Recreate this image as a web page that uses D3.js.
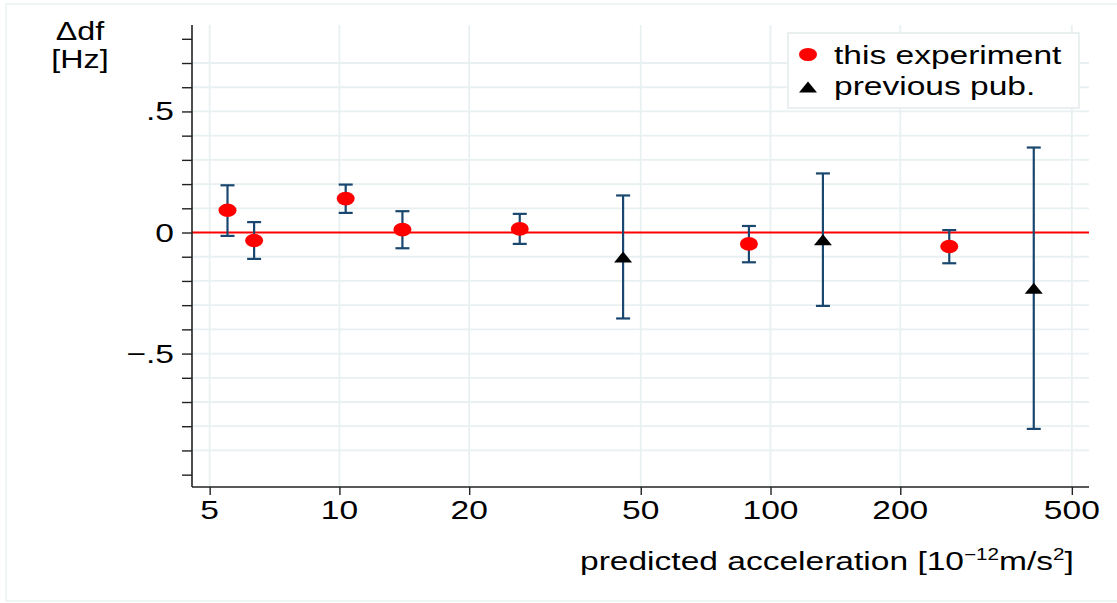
<!DOCTYPE html>
<html>
<head>
<meta charset="utf-8">
<script src="https://cdn.jsdelivr.net/npm/d3@7"></script>
<style>
  html, body { margin: 0; padding: 0; background: #ffffff; }
  svg { display: block; font-family: "Liberation Sans", Arial, Helvetica, sans-serif; }
</style>
</head>
<body>
<svg id="chart" width="1117" height="603"></svg>
<script>
// ---- data ----
const expX  = [5.5, 6.34, 10.34, 14.0, 26.2, 89.1, 259.8];
const expY  = [0.092, -0.033, 0.140, 0.012, 0.015, -0.047, -0.058];
const expLo = [-0.014, -0.109, 0.081, -0.065, -0.047, -0.123, -0.127];
const expHi = [0.195, 0.043, 0.198, 0.088, 0.077, 0.027, 0.010];

const pubX  = [45.5, 132.3, 408];
const pubY  = [-0.101, -0.030, -0.230];
const pubLo = [-0.355, -0.303, -0.811];
const pubHi = [0.153, 0.244, 0.351];

const xTicks = [5, 10, 20, 50, 100, 200, 500];
const yTicks = [-1.0, -0.9, -0.8, -0.7, -0.6, -0.5, -0.4, -0.3, -0.2, -0.1, 0, 0.1, 0.2, 0.3, 0.4, 0.5, 0.6, 0.7, 0.8];
const yGrid  = [-0.9, -0.8, -0.7, -0.6, -0.5, -0.4, -0.3, -0.2, -0.1, 0.1, 0.2, 0.3, 0.4, 0.5, 0.6, 0.7];
const yLabels = [{v: 0.5, t: ".5"}, {v: 0, t: "0"}, {v: -0.5, t: "\u2212.5"}];
const legendItems = ["this experiment", "previous pub."];

// ---- layout ----
const L = 192, R = 1089, T = 25, B = 487;
const SX = 1.29;            // horizontal stretch of the original rendering
const FS = 26;

const svg = d3.select("#chart");
const x = d3.scaleLog().domain([4.55, 548]).range([L, R]);
const y = d3.scaleLinear().domain([-1.051, 0.857]).range([B, T]);

const gridCol = "#e8f0f2";
const errCol = "#1a476f";

// outer frame
svg.append("rect").attr("x", 6).attr("y", 4).attr("width", 1125).attr("height", 597)
  .attr("fill", "#ffffff").attr("stroke", "#e6eeee").attr("stroke-width", 1.2);

function txt(g, px, py, s, anchor, size) {
  return g.append("text")
    .attr("transform", `translate(${px},${py}) scale(${SX},1)`)
    .attr("text-anchor", anchor || "start")
    .attr("font-size", size || FS)
    .attr("fill", "#000")
    .text(s);
}

// gridlines
const grid = svg.append("g");
grid.selectAll("line.h").data(yGrid).join("line")
  .attr("x1", L).attr("x2", R)
  .attr("y1", d => y(d)).attr("y2", d => y(d))
  .attr("stroke", gridCol).attr("stroke-width", 1.8);
grid.selectAll("line.v").data(xTicks).join("line")
  .attr("x1", d => x(d)).attr("x2", d => x(d))
  .attr("y1", T).attr("y2", B)
  .attr("stroke", gridCol).attr("stroke-width", 1.8);

// zero reference line
svg.append("line").attr("x1", L).attr("x2", R).attr("y1", y(0)).attr("y2", y(0))
  .attr("stroke", "#ff0000").attr("stroke-width", 2);

// axes
const yAxis = svg.append("g").attr("transform", `translate(${L},0)`)
  .call(d3.axisLeft(y).tickValues(yTicks).tickSize(10).tickFormat(""));
const xAxis = svg.append("g").attr("transform", `translate(0,${B})`)
  .call(d3.axisBottom(x).tickValues(xTicks).tickSize(8).tickFormat(""));
[yAxis, xAxis].forEach(a => {
  a.select(".domain").attr("stroke", "#222").attr("stroke-width", 1.6);
  a.selectAll(".tick line").attr("stroke", "#222").attr("stroke-width", 1.4);
});
yAxis.select(".domain").attr("d", `M0,${T}V${B}`);
xAxis.select(".domain").attr("d", `M${L},0H${R}`);

// tick labels
const lab = svg.append("g");
yLabels.forEach(d => txt(lab, 174, y(d.v) + 9, d.t, "end"));
xTicks.forEach(d => txt(lab, x(d), 519, String(d), "middle"));

// y title
txt(lab, 80, 40, "\u0394df", "middle", 25);
txt(lab, 80, 68, "[Hz]", "middle", 25);

// x title
const xt = lab.append("text")
  .attr("transform", `translate(580,570) scale(${SX},1)`)
  .attr("font-size", FS).attr("fill", "#000");
xt.append("tspan").text("predicted acceleration [10");
xt.append("tspan").attr("dy", -10).attr("font-size", 16).text("\u221212");
xt.append("tspan").attr("dy", 10).text("m/s");
xt.append("tspan").attr("dy", -10).attr("font-size", 16).text("2");
xt.append("tspan").attr("dy", 10).text("]");

// error bars
function errBars(xs, lo, hi) {
  const g = svg.append("g").attr("stroke", errCol).attr("stroke-width", 2.2).attr("fill", "none");
  const idx = d3.range(xs.length);
  g.selectAll("line.s").data(idx).join("line")
    .attr("x1", i => x(xs[i])).attr("x2", i => x(xs[i]))
    .attr("y1", i => y(hi[i])).attr("y2", i => y(lo[i]));
  g.selectAll("line.t").data(idx).join("line")
    .attr("x1", i => x(xs[i]) - 7).attr("x2", i => x(xs[i]) + 7)
    .attr("y1", i => y(hi[i])).attr("y2", i => y(hi[i]));
  g.selectAll("line.b").data(idx).join("line")
    .attr("x1", i => x(xs[i]) - 7).attr("x2", i => x(xs[i]) + 7)
    .attr("y1", i => y(lo[i])).attr("y2", i => y(lo[i]));
}
errBars(expX, expLo, expHi);
errBars(pubX, pubLo, pubHi);

const triPath = "M-9,5.5L9,5.5L0,-5.5Z";

// markers
svg.append("g").selectAll("ellipse").data(d3.range(expX.length)).join("ellipse")
  .attr("cx", i => x(expX[i])).attr("cy", i => y(expY[i]))
  .attr("rx", 9).attr("ry", 6.8).attr("fill", "#ff0000");
svg.append("g").selectAll("path").data(d3.range(pubX.length)).join("path")
  .attr("transform", i => `translate(${x(pubX[i])},${y(pubY[i])})`)
  .attr("d", triPath).attr("fill", "#000");

// legend
const lg = svg.append("g");
lg.append("rect").attr("x", 788).attr("y", 33).attr("width", 291).attr("height", 75)
  .attr("fill", "#fff").attr("stroke", "#e3ebec").attr("stroke-width", 1.5);
lg.append("ellipse").attr("cx", 808).attr("cy", 54.5).attr("rx", 9).attr("ry", 6.6).attr("fill", "#ff0000");
lg.append("path").attr("transform", "translate(808,87)").attr("d", triPath).attr("fill", "#000");
txt(lg, 834, 63.5, legendItems[0], "start");
txt(lg, 834, 95, legendItems[1], "start");
</script>
</body>
</html>
